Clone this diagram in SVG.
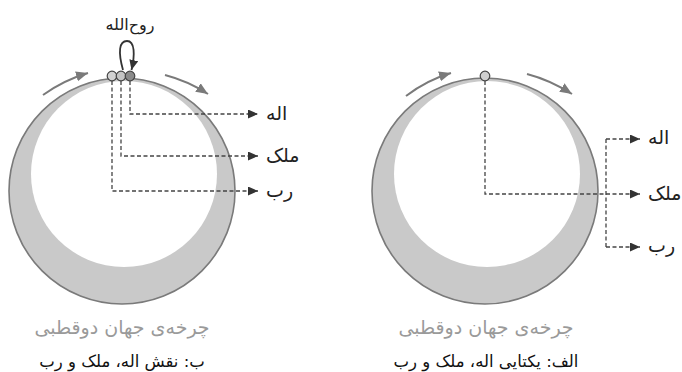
<svg xmlns="http://www.w3.org/2000/svg" width="682" height="372" viewBox="0 0 682 372">
<defs>
<style>
.outer{fill:#c9c9c9;stroke:#7a7a7a;stroke-width:1.6}
.inner{fill:#fff}
.rot{fill:none;stroke:#7a7a7a;stroke-width:2;marker-end:url(#mrot)}
.dash{fill:none;stroke:#444;stroke-width:1.3;stroke-dasharray:4 2.5}
.dashA{marker-end:url(#marr)}
.dot{stroke:#444;stroke-width:1.2}
.lbl{font-family:"DejaVu Sans",sans-serif;font-size:19px;fill:#222}
.top{font-family:"DejaVu Sans",sans-serif;font-size:16px;fill:#222}
.cap{font-family:"DejaVu Sans",sans-serif;font-size:19px;fill:#9a9a9a}
.title{font-family:"DejaVu Sans",sans-serif;font-size:16.5px;fill:#111}
</style>
<marker id="mrot" markerUnits="userSpaceOnUse" markerWidth="13" markerHeight="11" refX="12" refY="5" orient="auto">
<path d="M0,0 L12,5 L0,10 z" fill="#7a7a7a"/>
</marker>
<marker id="marr" markerUnits="userSpaceOnUse" markerWidth="11" markerHeight="10" refX="10" refY="4.5" orient="auto">
<path d="M0,0 L10,4.5 L0,9 z" fill="#333"/>
</marker>
</defs>
<g id="worldB">
<circle class="outer" cx="122" cy="191" r="113"/>
<circle class="inner" cx="124" cy="174" r="93"/>
</g>
<g id="worldA">
<circle class="outer" cx="485" cy="191" r="113"/>
<circle class="inner" cx="487" cy="174" r="93"/>
</g>
<g id="connectors">
<path class="rot" d="M43,95 Q64,80 88,73"/>
<path class="rot" d="M165,75 Q188,81 208,94"/>
<path class="rot" d="M406,96 Q427,80 451,73"/>
<path class="rot" d="M527,74 Q550,80 572,94"/>
<path class="dash dashA" d="M112,81 V191 H258"/>
<path class="dash dashA" d="M121,81 V156 H258"/>
<path class="dash dashA" d="M130,81 V114 H258"/>
<path d="M123,70 C118,52 119,41 127,41 C135,41 135,55 131.5,70" fill="none" stroke="#333" stroke-width="1.8" marker-end="url(#marr)"/>
<path class="dash dashA" d="M485,81 V194 H640"/>
<path class="dash" d="M606,139 V247"/>
<path class="dash dashA" d="M606,139 H640"/>
<path class="dash dashA" d="M606,247 H640"/>
</g>
<g id="dotsB">
<circle class="dot" cx="112" cy="76" r="4.8" fill="#d2d2d2"/>
<circle class="dot" cx="121" cy="76" r="4.8" fill="#c4c4c4"/>
<circle class="dot" cx="130" cy="76" r="4.8" fill="#8a8a8a"/>
</g>
<g id="dotA">
<circle class="dot" cx="485" cy="76" r="4.8" fill="#cfcfcf"/>
</g>
<g id="labelsB">
<text class="top" x="130" y="30" text-anchor="middle" direction="rtl">روح‌الله</text>
<text class="lbl" x="266" y="120">اله</text>
<text class="lbl" x="266" y="162">ملک</text>
<text class="lbl" x="266" y="197">رب</text>
<text class="cap" x="122" y="334" text-anchor="middle" direction="rtl">چرخه‌ی جهان دوقطبی</text>
<text class="title" x="122" y="367" text-anchor="middle" direction="rtl">ب: نقش اله، ملک و رب</text>
</g>
<g id="labelsA">
<text class="lbl" x="648" y="144">اله</text>
<text class="lbl" x="648" y="200">ملک</text>
<text class="lbl" x="648" y="252">رب</text>
<text class="cap" x="486" y="334" text-anchor="middle" direction="rtl">چرخه‌ی جهان دوقطبی</text>
<text class="title" x="486" y="367" text-anchor="middle" direction="rtl">الف: یکتایی اله، ملک و رب</text>
</g>
</svg>
